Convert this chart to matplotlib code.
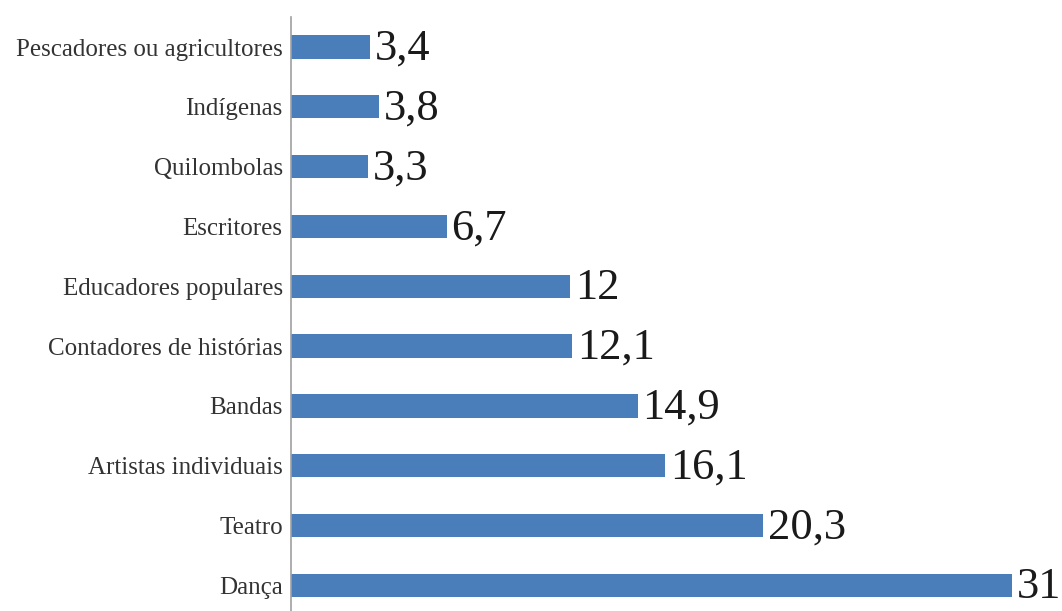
import matplotlib.pyplot as plt

categorias = [
    "Pescadores ou agricultores",
    "Indígenas",
    "Quilombolas",
    "Escritores",
    "Educadores populares",
    "Contadores de histórias",
    "Bandas",
    "Artistas individuais",
    "Teatro",
    "Dança",
]
valores = [3.4, 3.8, 3.3, 6.7, 12, 12.1, 14.9, 16.1, 20.3, 31]
rotulos = ["3,4", "3,8", "3,3", "6,7", "12", "12,1", "14,9", "16,1", "20,3", "31"]


def main():
    plt.rcParams["font.family"] = ["Liberation Serif", "DejaVu Serif"]

    fig = plt.figure(figsize=(10.62, 6.11), dpi=100)
    ax = fig.add_axes([0.274, 0.0, 0.726, 0.972])

    pos = list(range(len(categorias)))
    ax.barh(pos, valores, height=0.39, color="#4a7ebb", zorder=2)

    for y, v, txt in zip(pos, valores, rotulos):
        ax.text(v + 0.2, y + 0.03, txt, va="center", ha="left",
                fontsize=32, color="#1a1a1a")

    ax.set_yticks(pos)
    ax.set_yticklabels(categorias, fontsize=18, color="#333333")
    ax.tick_params(axis="y", length=0, pad=6)
    ax.set_xticks([])

    ax.set_xlim(0, 33.15)
    ax.set_ylim(9.43, -0.5)

    for s in ["top", "right", "bottom"]:
        ax.spines[s].set_visible(False)
    ax.spines["left"].set_color("#a0a0a0")
    ax.spines["left"].set_linewidth(1.2)

    plt.savefig("out.png", dpi=100)
    plt.close()


if __name__ == "__main__":
    main()
